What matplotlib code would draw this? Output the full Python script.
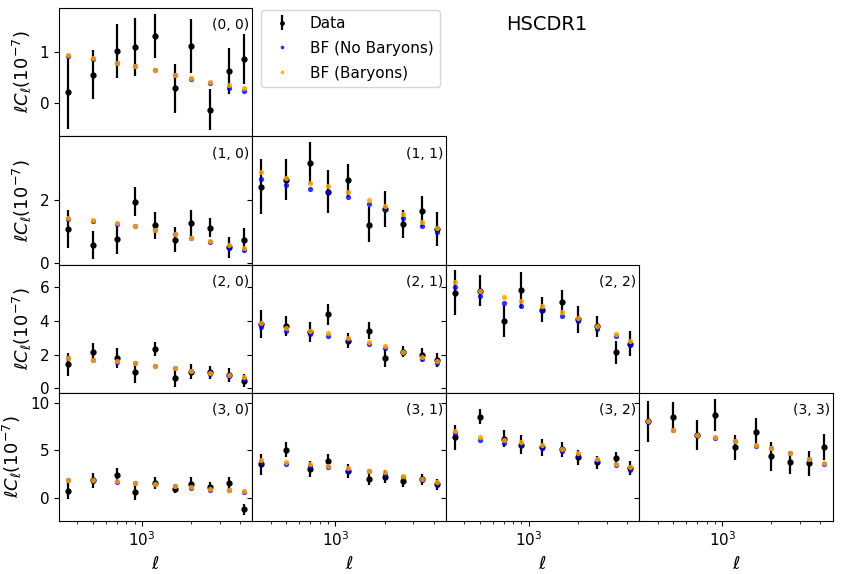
import numpy as np
import matplotlib
matplotlib.use('Agg')
import matplotlib.pyplot as plt

# bandpower centres
ells = [350, 500, 700, 900, 1200, 1600, 2000, 2600, 3400, 4200]

# data, errors, best fit without / with baryons  (units of 1e-7)
data = {
    (0, 0): [0.21, 0.56, 1.03, 1.11, 1.32, 0.29, 1.13, -0.13, 0.63, 0.87],
    (1, 0): [1.09, 0.59, 0.77, 1.94, 1.19, 0.75, 1.28, 1.12, 0.51, 0.73],
    (1, 1): [2.41, 2.62, 3.15, 2.25, 2.60, 1.22, 1.71, 1.25, 1.63, 1.08],
    (2, 0): [1.43, 2.16, 1.78, 0.95, 2.34, 0.63, 0.99, 0.95, 0.79, 0.46],
    (2, 1): [3.82, 3.68, 3.33, 4.38, 2.83, 3.41, 1.80, 2.16, 2.00, 1.68],
    (2, 2): [5.66, 5.76, 3.98, 5.80, 4.65, 5.11, 4.08, 3.66, 2.14, 2.63],
    (3, 0): [0.70, 1.85, 2.37, 0.59, 1.60, 0.98, 1.50, 1.15, 1.60, -1.18],
    (3, 1): [3.52, 5.05, 3.07, 3.87, 2.82, 2.02, 2.26, 1.74, 1.95, 1.43],
    (3, 2): [6.38, 8.54, 6.22, 5.61, 5.33, 5.09, 4.29, 3.76, 4.22, 3.17],
    (3, 3): [8.05, 8.54, 6.62, 8.71, 5.33, 6.97, 4.39, 3.76, 3.66, 5.33],
}

errors = {
    (0, 0): [0.72, 0.48, 0.53, 0.57, 0.44, 0.49, 0.53, 0.41, 0.46, 0.50],
    (1, 0): [0.59, 0.44, 0.48, 0.45, 0.41, 0.38, 0.41, 0.29, 0.33, 0.38],
    (1, 1): [0.87, 0.64, 0.65, 0.68, 0.51, 0.54, 0.57, 0.44, 0.48, 0.52],
    (2, 0): [0.68, 0.51, 0.58, 0.61, 0.42, 0.54, 0.45, 0.40, 0.43, 0.37],
    (2, 1): [0.84, 0.60, 0.61, 0.63, 0.46, 0.49, 0.55, 0.32, 0.38, 0.42],
    (2, 2): [1.31, 0.91, 0.94, 1.07, 0.72, 0.73, 0.80, 0.63, 0.67, 0.74],
    (3, 0): [0.84, 0.78, 0.82, 0.75, 0.63, 0.49, 0.70, 0.52, 0.66, 0.61],
    (3, 1): [1.15, 0.78, 0.84, 0.78, 0.70, 0.70, 0.66, 0.61, 0.61, 0.61],
    (3, 2): [1.32, 0.82, 0.91, 0.96, 0.87, 0.75, 0.78, 0.70, 0.61, 0.70],
    (3, 3): [2.16, 1.57, 1.60, 1.71, 1.32, 1.39, 1.52, 1.22, 1.31, 1.39],
}

bf_nobar = {
    (0, 0): [0.93, 0.875, 0.80, 0.74, 0.645, 0.55, 0.47, 0.39, 0.30, 0.24],
    (1, 0): [1.38, 1.33, 1.23, 1.16, 1.05, 0.91, 0.80, 0.66, 0.50, 0.42],
    (1, 1): [2.64, 2.47, 2.34, 2.25, 2.08, 1.87, 1.70, 1.43, 1.18, 0.99],
    (2, 0): [1.80, 1.68, 1.57, 1.48, 1.35, 1.18, 1.03, 0.86, 0.74, 0.58],
    (2, 1): [3.62, 3.39, 3.21, 3.09, 2.87, 2.63, 2.40, 2.12, 1.72, 1.49],
    (2, 2): [5.98, 5.45, 5.05, 4.87, 4.61, 4.26, 3.98, 3.52, 3.07, 2.59],
    (3, 0): [1.90, 1.83, 1.71, 1.55, 1.43, 1.22, 1.10, 0.90, 0.80, 0.68],
    (3, 1): [3.76, 3.59, 3.31, 3.24, 2.89, 2.79, 2.54, 2.26, 1.85, 1.39],
    (3, 2): [6.79, 6.10, 5.80, 5.61, 5.23, 4.95, 4.53, 3.94, 3.42, 2.93],
    (3, 3): [8.00, 7.15, 6.62, 6.32, 6.00, 5.50, 5.20, 4.70, 4.05, 3.60],
}

bf_bar = {
    (0, 0): [0.95, 0.88, 0.80, 0.74, 0.65, 0.56, 0.49, 0.42, 0.35, 0.30],
    (1, 0): [1.43, 1.36, 1.26, 1.17, 1.06, 0.92, 0.81, 0.69, 0.58, 0.49],
    (1, 1): [2.85, 2.67, 2.53, 2.42, 2.23, 1.99, 1.80, 1.55, 1.30, 1.12],
    (2, 0): [1.82, 1.68, 1.60, 1.50, 1.35, 1.19, 1.05, 0.89, 0.79, 0.65],
    (2, 1): [3.86, 3.56, 3.37, 3.25, 2.99, 2.73, 2.48, 2.16, 1.84, 1.64],
    (2, 2): [6.30, 5.76, 5.37, 5.15, 4.85, 4.50, 4.18, 3.70, 3.23, 2.83],
    (3, 0): [1.92, 1.85, 1.74, 1.57, 1.46, 1.25, 1.15, 0.94, 0.84, 0.73],
    (3, 1): [4.04, 3.83, 3.58, 3.41, 3.17, 2.89, 2.72, 2.30, 2.02, 1.67],
    (3, 2): [7.07, 6.45, 6.06, 5.85, 5.54, 5.09, 4.71, 4.11, 3.59, 3.21],
    (3, 3): [8.05, 7.18, 6.66, 6.38, 6.03, 5.57, 5.26, 4.74, 4.11, 3.66],
}

row_ticks = [[0, 1], [0, 2], [0, 2, 4, 6], [0, 5, 10]]

fig = plt.figure(figsize=(8.42, 5.74), dpi=100)
gs = fig.add_gridspec(4, 4, hspace=0, wspace=0, left=0.070, right=0.989,
                      top=0.986, bottom=0.0923)

# only the lower triangle gets panels
first = None
row_first = {}
axes = {}
for i in range(4):
    for j in range(i + 1):
        ax = fig.add_subplot(gs[i, j], sharex=first, sharey=row_first.get(i))
        if first is None:
            first = ax
            ax.set_xscale('log')
        if i not in row_first:
            row_first[i] = ax
        axes[(i, j)] = ax

for (i, j), ax in axes.items():
    ax.errorbar(ells, data[(i, j)], yerr=errors[(i, j)], fmt='o',
                color='k', ms=3.5, elinewidth=1.6, label='Data', zorder=3)
    ax.plot(ells, bf_nobar[(i, j)], 'o', color='blue', ms=3.8, alpha=0.8,
            mec='none', label='BF (No Baryons)', zorder=4)
    ax.plot(ells, bf_bar[(i, j)], 'o', color='orange', ms=3.8, alpha=0.85,
            mec='none', label='BF (Baryons)', zorder=5)
    ax.text(0.985, 0.92, '(%d, %d)' % (i, j), transform=ax.transAxes,
            ha='right', va='top', fontsize=10)
    ax.tick_params(labelsize=11)
    if j == 0:
        ax.set_ylabel(r'$\ell C_\ell (10^{-7})$', fontsize=13)
        ax.set_yticks(row_ticks[i])
    if i == 3:
        ax.set_xlabel(r'$\ell$', fontsize=13)
    ax.label_outer()

# log-x range with the usual 5% margin around the bandpowers
lo, hi = np.log10(min(ells)), np.log10(max(ells))
pad = 0.05 * (hi - lo)
first.set_xlim(10 ** (lo - pad), 10 ** (hi + pad))

handles, labels = axes[(0, 0)].get_legend_handles_labels()
order = [labels.index(l) for l in ['Data', 'BF (No Baryons)', 'BF (Baryons)']]
fig.legend([handles[k] for k in order], [labels[k] for k in order],
           loc='upper left', bbox_to_anchor=(0.310, 0.983), borderaxespad=0,
           fontsize=11, labelspacing=0.65, markerscale=0.7)
fig.text(0.649, 0.958, 'HSCDR1', ha='center', va='center', fontsize=14)

plt.savefig('out.png', dpi=100)
